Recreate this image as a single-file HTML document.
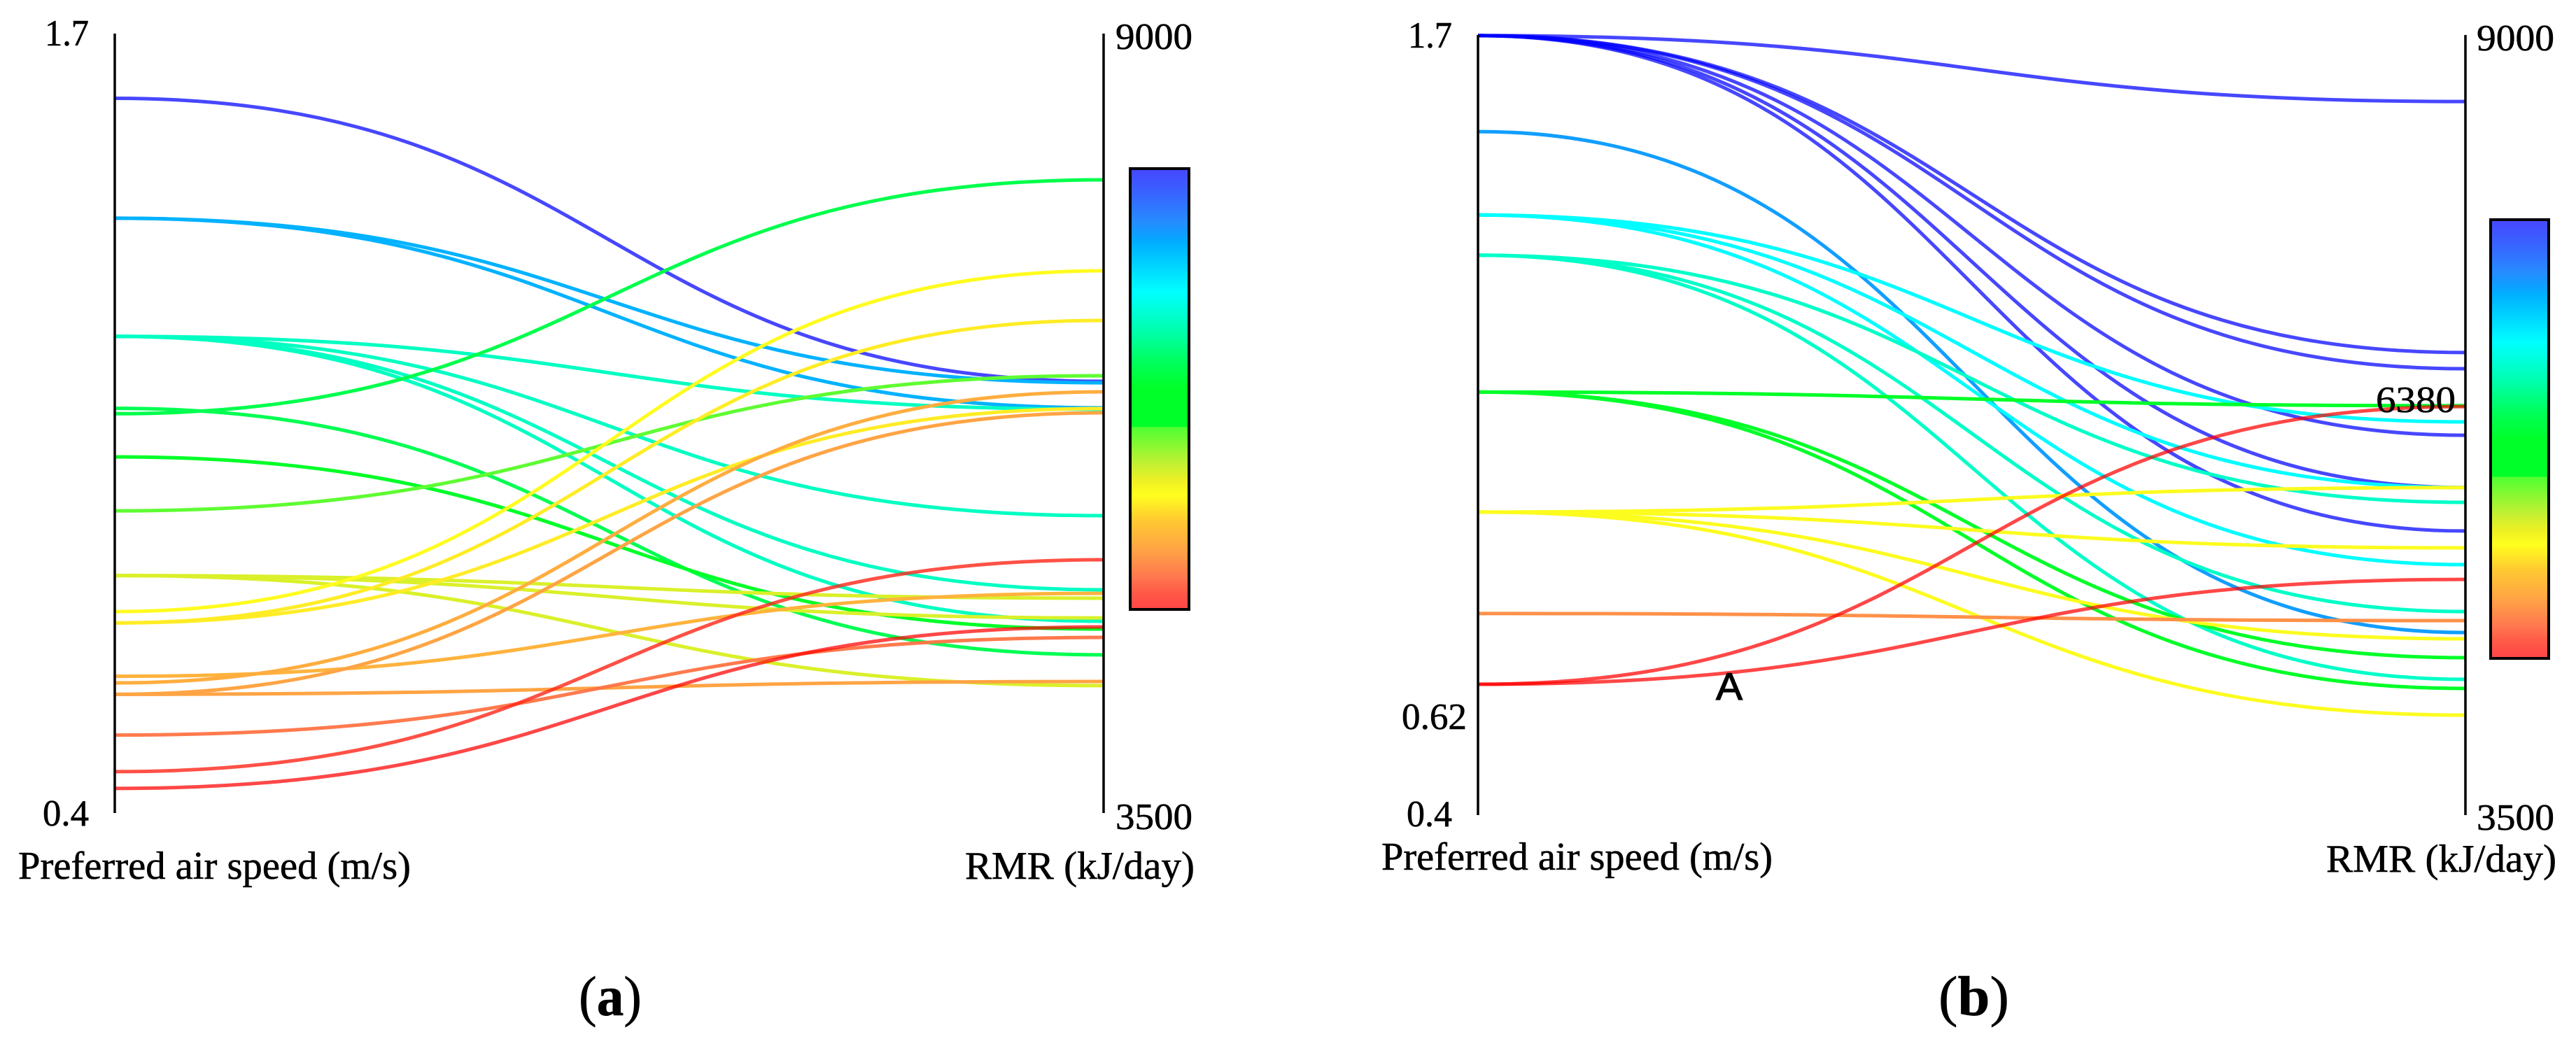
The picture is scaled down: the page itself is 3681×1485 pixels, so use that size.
<!DOCTYPE html>
<html lang="en">
<head>
<meta charset="utf-8">
<title>Parallel coordinates: preferred air speed and RMR</title>
<style>
html,body{margin:0;padding:0;background:#fff;}
svg{display:block;}
text{font-family:"Liberation Serif",serif;fill:#000;stroke:#000;stroke-width:0.6px;}
.sans{font-family:"Liberation Sans",sans-serif;stroke-width:1.2px;}
</style>
</head>
<body>
<svg id="figure" xmlns="http://www.w3.org/2000/svg" width="3681" height="1485" viewBox="0 0 3681 1485">
  <rect x="0" y="0" width="3681" height="1485" fill="#fff"/>
  <defs>
    <linearGradient id="barGradA" x1="0" y1="0" x2="0" y2="1"></linearGradient>
    <linearGradient id="barGradB" x1="0" y1="0" x2="0" y2="1"></linearGradient>
  </defs>

  <g id="panelA">
    <g id="linesA"></g>
    <line x1="164" y1="48" x2="164" y2="1162" stroke="#000" stroke-width="3.5"/>
    <line x1="1577" y1="48" x2="1577" y2="1162" stroke="#000" stroke-width="3.5"/>
    <rect x="1615" y="241" width="84" height="630" fill="url(#barGradA)" stroke="#000" stroke-width="4"/>
    <text x="64" y="65" font-size="53" textLength="63" lengthAdjust="spacingAndGlyphs">1.7</text>
    <text x="61" y="1180" font-size="53" textLength="66" lengthAdjust="spacingAndGlyphs">0.4</text>
    <text x="1594" y="70" font-size="53" textLength="110" lengthAdjust="spacingAndGlyphs">9000</text>
    <text x="1594" y="1185" font-size="53" textLength="110" lengthAdjust="spacingAndGlyphs">3500</text>
    <text x="26" y="1256" font-size="56" textLength="561" lengthAdjust="spacingAndGlyphs">Preferred air speed (m/s)</text>
    <text x="1379" y="1256" font-size="56" textLength="328" lengthAdjust="spacingAndGlyphs">RMR (kJ/day)</text>
    <text x="827" y="1451" font-size="80" textLength="90" lengthAdjust="spacingAndGlyphs">(<tspan font-weight="bold">a</tspan>)</text>
  </g>

  <g id="panelB">
    <g id="linesB"></g>
    <line x1="2112" y1="50" x2="2112" y2="1165" stroke="#000" stroke-width="3.5"/>
    <line x1="3523" y1="50" x2="3523" y2="1165" stroke="#000" stroke-width="3.5"/>
    <rect x="3559" y="314" width="83" height="627" fill="url(#barGradB)" stroke="#000" stroke-width="4"/>
    <text x="2012" y="68" font-size="53" textLength="63" lengthAdjust="spacingAndGlyphs">1.7</text>
    <text x="2003" y="1042" font-size="53" textLength="93" lengthAdjust="spacingAndGlyphs">0.62</text>
    <text x="2010" y="1181" font-size="53" textLength="65" lengthAdjust="spacingAndGlyphs">0.4</text>
    <text x="3539" y="72" font-size="53" textLength="111" lengthAdjust="spacingAndGlyphs">9000</text>
    <text x="3539" y="1186" font-size="53" textLength="111" lengthAdjust="spacingAndGlyphs">3500</text>
    <text x="3395" y="589" font-size="53" textLength="114" lengthAdjust="spacingAndGlyphs">6380</text>
    <text class="sans" x="2452" y="1000" font-size="55" textLength="38" lengthAdjust="spacingAndGlyphs">A</text>
    <text x="1974" y="1243" font-size="56" textLength="559" lengthAdjust="spacingAndGlyphs">Preferred air speed (m/s)</text>
    <text x="3324" y="1246" font-size="56" textLength="329" lengthAdjust="spacingAndGlyphs">RMR (kJ/day)</text>
    <text x="2770" y="1451" font-size="80" textLength="101" lengthAdjust="spacingAndGlyphs">(<tspan font-weight="bold">b</tspan>)</text>
  </g>
</svg>

<script>
// Panel (a): one entry per line, preferred air speed (m/s) and RMR (kJ/day)
var speedA = [1.592, 1.392, 1.392, 1.195, 1.195, 1.195, 1.195, 1.066, 1.075, 0.994, 0.904, 0.796, 0.796, 0.796, 0.736, 0.717, 0.717, 0.628, 0.617, 0.598, 0.598, 0.530, 0.469, 0.441];
var rmrA = [6546, 6536, 6359, 6349, 5598, 5075, 4853, 7968, 4616, 4798, 6586, 5016, 4877, 4399, 7326, 6976, 6354, 5050, 6472, 6324, 4428, 4739, 5287, 4813];

// Panel (b): one entry per line
var speedB = [1.699, 1.699, 1.699, 1.699, 1.699, 1.699, 1.539, 1.400, 1.400, 1.400, 1.333, 1.333, 1.333, 1.105, 1.105, 1.105, 0.905, 0.905, 0.905, 0.905, 0.736, 0.618, 0.618];
var rmrB = [8531, 6761, 6647, 6178, 5809, 5503, 4787, 6272, 5809, 5266, 5705, 4935, 4457, 6386, 4610, 4393, 5809, 5384, 4743, 4205, 4871, 6380, 5162];

// Axis domains
var speedDomain = [0.4, 1.7];
var rmrDomain = [3500, 9000];

function makeScale(domain, bottomPx, topPx) {
  return function (v) {
    return bottomPx + (v - domain[0]) / (domain[1] - domain[0]) * (topPx - bottomPx);
  };
}

// Colour ramp of the bars, top (t=0) to bottom (t=1): t, r, g, b, alpha
var ramp = [
  [0, 0, 0, 255, 0.72],
  [0.12, 0, 120, 255, 0.85],
  [0.17, 0, 175, 255, 1],
  [0.28, 0, 255, 255, 1],
  [0.37, 0, 255, 170, 1],
  [0.44, 0, 255, 90, 1],
  [0.50, 0, 255, 40, 1],
  [0.585, 0, 255, 40, 1],
  [0.587, 80, 255, 50, 1],
  [0.67, 195, 240, 50, 1],
  [0.71, 238, 240, 35, 1],
  [0.74, 255, 255, 30, 1],
  [0.80, 255, 200, 50, 1],
  [0.87, 255, 160, 70, 1],
  [0.93, 255, 110, 70, 0.95],
  [1, 255, 0, 0, 0.72]
];

function rampColor(t) {
  t = Math.max(0, Math.min(1, t));
  for (var i = 1; i < ramp.length; i++) {
    if (t <= ramp[i][0]) {
      var a = ramp[i - 1], b = ramp[i];
      var f = (t - a[0]) / (b[0] - a[0]);
      return 'rgba(' + Math.round(a[1] + (b[1] - a[1]) * f) + ',' +
        Math.round(a[2] + (b[2] - a[2]) * f) + ',' +
        Math.round(a[3] + (b[3] - a[3]) * f) + ',' +
        (a[4] + (b[4] - a[4]) * f).toFixed(3) + ')';
    }
  }
  return 'rgba(255,0,0,0.72)';
}

var SVG_NS = 'http://www.w3.org/2000/svg';

function fillGradient(id) {
  var grad = document.getElementById(id);
  ramp.forEach(function (s) {
    var stop = document.createElementNS(SVG_NS, 'stop');
    stop.setAttribute('offset', s[0]);
    stop.setAttribute('stop-color', 'rgb(' + s[1] + ',' + s[2] + ',' + s[3] + ')');
    stop.setAttribute('stop-opacity', s[4]);
    grad.appendChild(stop);
  });
}

function drawPanel(groupId, prefix, speeds, rmrs, xLeft, xRight, yBottom, yTop) {
  var group = document.getElementById(groupId);
  var ySpeed = makeScale(speedDomain, yBottom, yTop);
  var yRmr = makeScale(rmrDomain, yBottom, yTop);
  var vMax = Math.max.apply(null, speeds);
  var vMin = Math.min.apply(null, speeds);
  var xMid = (xLeft + xRight) / 2;
  speeds.forEach(function (speed, i) {
    var y0 = ySpeed(speed);
    var y1 = yRmr(rmrs[i]);
    var path = document.createElementNS(SVG_NS, 'path');
    path.setAttribute('d', 'M' + xLeft + ' ' + y0 + ' C' + xMid + ' ' + y0 + ' ' + xMid + ' ' + y1 + ' ' + xRight + ' ' + y1);
    path.setAttribute('fill', 'none');
    path.setAttribute('stroke', rampColor((vMax - speed) / (vMax - vMin)));
    path.setAttribute('stroke-width', '5');
    
    
    group.appendChild(path);
  });
}

fillGradient('barGradA');
fillGradient('barGradB');
drawPanel('linesA', 'panel-a', speedA, rmrA, 164, 1577, 1162, 48);
drawPanel('linesB', 'panel-b', speedB, rmrB, 2112, 3523, 1165, 50);
</script>
</body>
</html>
